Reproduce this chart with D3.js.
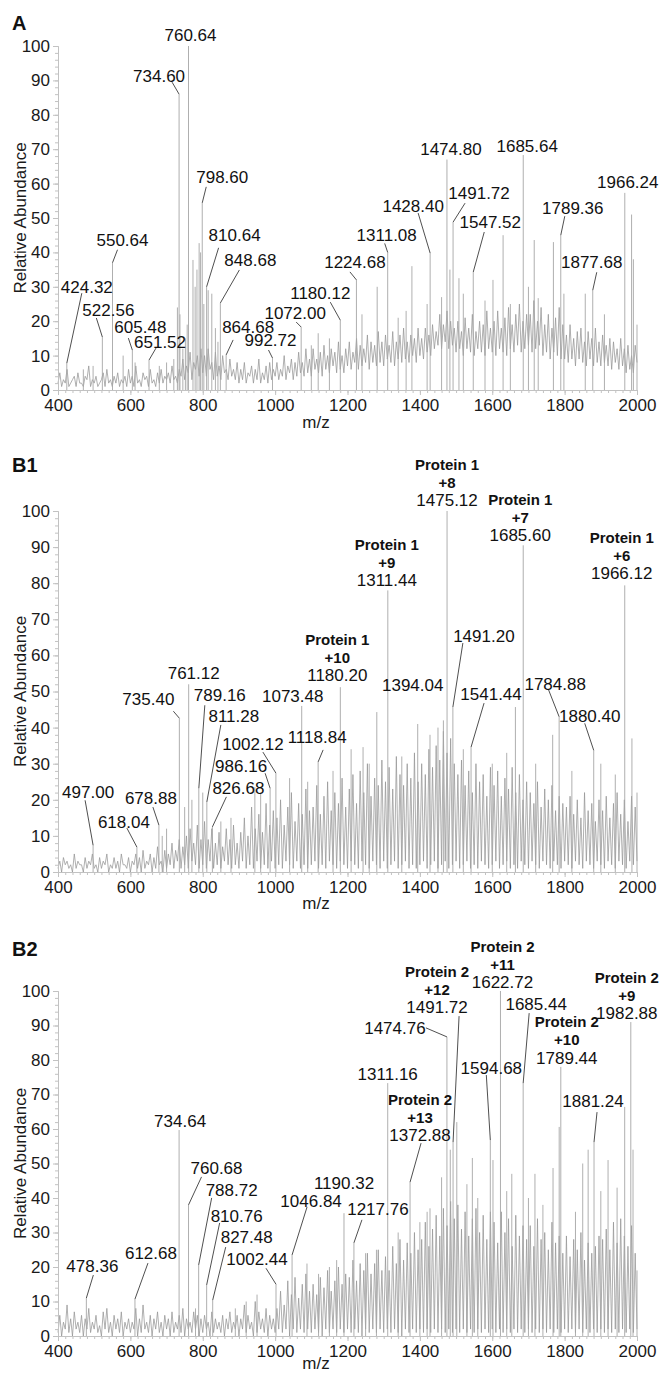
<!DOCTYPE html>
<html>
<head>
<meta charset="utf-8">
<script src="https://cdn.jsdelivr.net/npm/d3@7"></script>
<style>
  body { margin: 0; background: #fff; }
</style>
</head>
<body>
<div id="chart"></div>
<script>
// ---- data ----
const mzTicks = [400, 600, 800, 1000, 1200, 1400, 1600, 1800, 2000];
const abundanceTicks = [0, 10, 20, 30, 40, 50, 60, 70, 80, 90, 100];

// noisy profile trace, one value every 5 m/z from 400 to 2000
const noiseStart = 400, noiseStep = 5;
const noiseA = [
  2,5,1,3,2,6,1,2,3,4,1,5,2,2,1,4,3,7,1,3,
  2,4,1,2,3,5,1,6,2,3,1,4,2,5,1,3,2,4,1,6,
  2,4,1,7,2,3,1,5,3,4,1,6,2,3,1,5,2,6,2,4,
  3,5,2,7,3,4,2,6,4,9,3,7,5,11,3,8,6,10,4,12,
  5,10,4,12,6,8,3,11,4,7,3,10,5,6,3,9,4,6,3,8,
  2,6,3,8,2,5,4,7,2,6,3,9,2,5,3,7,2,8,3,6,
  4,8,3,6,4,10,3,7,5,9,3,8,4,11,5,8,4,12,5,9,
  4,12,6,9,5,11,4,13,6,10,5,12,7,11,5,14,6,10,5,12,
  7,14,6,11,8,15,6,13,7,12,8,16,6,14,8,13,7,17,8,14,
  7,16,9,13,8,17,7,14,9,16,8,18,9,14,8,16,10,15,8,18,
  10,15,9,18,11,16,10,19,12,17,13,22,12,19,14,23,12,20,13,18,
  11,20,12,17,10,21,12,18,11,22,10,17,12,20,11,19,10,23,12,18,
  11,20,10,23,12,18,11,21,10,24,12,19,11,22,13,25,11,20,12,22,
  13,22,11,26,12,20,13,24,10,19,11,22,9,18,11,21,10,24,9,19,
  9,16,8,19,9,15,7,17,9,18,8,14,7,17,9,15,7,18,8,14,
  7,16,8,13,7,15,6,14,8,12,6,15,7,12,5,13,6,10,5,13,
  8
];
const noiseB1 = [
  1,3,0,4,2,3,1,2,0,5,1,3,2,2,0,4,1,3,2,5,
  1,2,0,4,1,3,2,5,0,2,1,4,1,3,0,5,2,2,1,4,
  0,3,2,5,1,4,0,6,1,3,2,5,0,4,1,7,2,3,0,6,
  1,5,2,8,1,6,3,9,1,7,2,10,1,12,3,8,2,13,1,9,
  2,14,1,9,3,12,1,8,2,11,1,7,3,12,2,9,1,13,2,8,
  1,11,3,15,1,10,2,18,1,12,3,16,1,11,2,19,1,13,3,17,
  1,15,2,20,1,13,3,18,2,22,1,14,3,19,1,16,2,23,1,17,
  2,18,3,24,1,16,2,21,1,25,3,17,2,22,1,19,3,26,2,18,
  1,23,3,27,2,19,1,28,3,22,2,30,1,21,3,26,2,24,1,31,
  3,25,1,29,2,23,3,32,1,27,2,24,3,30,1,26,2,33,1,25,
  2,30,3,27,1,34,2,29,3,35,1,31,2,39,3,33,1,37,2,30,
  3,27,1,31,2,24,3,28,1,22,2,30,1,25,3,27,2,21,1,29,
  2,24,3,28,1,21,2,26,3,23,1,29,2,22,1,27,3,20,2,25,
  1,22,3,19,2,25,1,18,3,23,2,20,1,24,3,17,2,21,1,19,
  3,18,2,21,1,16,3,20,2,15,1,22,3,17,2,19,1,14,3,20,
  2,17,1,21,3,15,2,19,1,22,3,16,2,20,1,14,3,21,2,18,
  3
];
const noiseB2 = [
  1,6,0,4,2,9,1,5,0,7,2,4,1,6,0,5,2,8,1,4,
  2,6,1,3,0,7,2,8,1,4,0,6,2,5,1,7,0,4,2,5,
  1,4,2,8,0,5,1,9,2,4,1,6,0,5,2,7,1,4,0,6,
  2,5,0,7,1,4,2,6,1,8,0,5,2,4,1,7,2,6,0,5,
  1,6,2,4,0,7,1,5,2,4,1,6,0,5,2,7,1,4,2,6,
  0,5,2,9,1,6,2,4,0,10,1,7,2,5,1,8,0,6,2,5,
  1,8,2,13,1,9,2,16,0,12,2,17,1,11,2,15,1,18,2,13,
  1,15,2,12,1,17,0,14,2,19,1,13,2,16,1,20,2,15,1,18,
  2,17,1,22,2,16,1,21,0,19,2,24,1,18,2,21,1,25,2,19,
  1,23,2,19,1,26,2,21,1,28,0,22,2,27,1,24,2,30,1,25,
  2,28,1,33,2,26,1,31,2,35,1,29,2,37,1,32,2,39,1,34,
  2,38,1,31,2,36,1,29,2,34,1,37,2,30,1,35,2,28,1,36,
  2,33,1,27,2,36,1,30,2,34,1,26,2,35,1,29,2,32,1,28,
  2,32,1,26,2,34,1,28,2,30,1,25,2,33,1,27,2,29,1,24,
  2,29,1,23,2,28,1,25,2,30,1,22,2,27,1,24,2,26,1,29,
  2,28,1,31,2,25,1,33,2,27,1,34,2,29,1,26,2,32,1,24,
  2
];

// unlabelled peaks [m/z, abundance]
const extraPeaksA = [
  [470,6],[497,7],[580,10],[613,8],[680,7],[700,8],[720,9],[730,24],[737,22],[745,12],
  [752,15],[757,19],[773,37.8],[779,30],[784,35],[790,42.7],[794,40],[803,25],[815,29],
  [825,28],[835,18],[842,14],[1100,13],[1119,16.5],[1150,15],[1240,22],[1282,30],
  [1340,21],[1362,23],[1378,36],[1420,25],[1460,27],[1483,35],[1508,32.5],[1520,28],
  [1580,26],[1602,32],[1630,45],[1650,25],[1700,30],[1716,43.6],[1727,26.7],[1769,43],
  [1798,28],[1857,28],[1910,22],[1985,51],[1990,38],[2000,19]
];
const extraPeaksB1 = [
  [688,10],[700,12],[750,18],[770,20],[800,22],[850,14],[878,15],[944,23.5],[960,22],
  [1040,26],[1090,25],[1160,28],[1210,34],[1243,34.6],[1260,30],[1281,44.3],[1350,32],
  [1428,38],[1450,40],[1465,42],[1520,34],[1600,30],[1640,33],[1664,45.7],[1720,30],
  [1767,38],[1820,28],[1900,30],[1940,27],[1986,37],[2000,22]
];
const extraPeaksB2 = [
  [780,8],[890,8],[920,10],[950,12],[1088,21],[1120,18],[1150,20],[1170,22],[1250,24],
  [1280,25],[1340,30],[1400,33],[1420,36],[1428,37],[1460,46],[1484,54],[1502,62],
  [1530,44],[1545,51.6],[1560,40],[1602,51],[1640,42],[1654,47],[1700,40],[1718,47],
  [1740,38],[1768,48.7],[1785,60.6],[1830,36],[1850,50],[1865,54],[1900,42],[1920,51],
  [1945,43],[1966,66.4],[1989,54],[2000,19]
];

// labelled peaks
const labelMzA = [424.32,522.56,550.64,605.48,651.52,734.60,760.64,798.60,810.64,848.68,864.68,992.72,
  1072.00,1180.12,1224.68,1311.08,1428.40,1474.80,1491.72,1547.52,1685.64,1789.36,1877.68,1966.24];
const labelAbA = [7.8,15.4,37,11.6,8.7,86,100,54.4,30,25.3,10.2,9.3,
  18.3,20.3,32,40,39.8,67,48.8,34.3,68.3,45,29,57.3];

const labelMzB1 = [497.00,618.04,678.88,735.40,761.12,789.16,811.28,826.68,986.16,1002.12,1073.48,
  1118.84,1180.20,1311.44,1394.04,1475.12,1491.20,1541.44,1685.60,1784.88,1880.40,1966.12];
const labelAbB1 = [7.4,6.9,13,42.6,52,23.2,19.4,12.5,23.2,27.4,46,
  30.5,51.2,78,41,100,45.7,34.6,90.5,43,33.7,79.4];
const chargeB1 = [null,null,null,null,null,null,null,null,null,null,null,
  null,"+10","+9",null,"+8",null,null,"+7",null,null,"+6"];

const labelMzB2 = [478.36,612.68,734.64,760.68,788.72,810.76,827.48,1002.44,1046.84,1190.32,1217.76,
  1311.16,1372.88,1474.76,1491.72,1594.68,1622.72,1685.44,1789.44,1881.24,1982.88];
const labelAbB2 = [11,10.7,59.7,38,20.6,14.8,10.4,15,23.5,35.6,27,
  73.3,44.6,86.7,56.2,56.8,100,73.3,78,56.2,91];
const chargeB2 = [null,null,null,null,null,null,null,null,null,null,null,
  null,"+13",null,"+12",null,"+11",null,"+10",null,"+9"];

// ---- annotation layout: label centre offset and leader start, px from the peak top ----
const offsetsA = [
  [20,-76,15,-70],[6,-27,-6,-19],[10,-23,5,-13],[8,-23,-4,-12],[11,-18,7,-12],[-20,-18,-7,-12],
  [2,-11,null,null],[20,-26,4,-16],[28,-52,12,-39],[30,-43,19,-33],[22,-28,7,-15],[-2,-18,-4,-8],
  [-6,-14,-5,-5],[-20,-27,-10,-18],[-1.5,-18,-6.5,-8],[-1,-17,-3,-9],[-17,-47,-12,-40],[4,-11,null,null],
  [26,-29,12,-19],[17,-50,11,-40],[4,-9,null,null],[12,-27,4,-19],[-1,-28,4,-18],[3,-11,null,null]
];
const offsetsB1 = [
  [-5,-53,-8,-45],[-13,-25,-10,-19],[-8,-27,-6,-18],[-31,-19,-6,-7],[5,-11,null,null],[21,-93,6,-83],
  [27,-86,14,-77],[26,-39,14,-30],[-29,-22,-5,-15],[-23,-29,-13,-21],[-9,-10,null,null],[-1,-25,5,-12],
  [-3,-12,null,null],[-1,-10,null,null],[-5,-39,null,null],[0,-11,null,null],[31,-71,10,-64],[20,-53,13,-44],
  [-3,-10,null,null],[-4,-33,-11,-28],[-4,-34,-9,-27],[-3,-12,null,null]
];
const offsetsB2 = [
  [6,-32,7,-23],[16,-46,13,-36],[1,-9,null,null],[28,-37,13,-28],[33,-75,13,-67],[30,-69,13,-62],
  [34,-63,13,-53],[-19,-25,-10,-16],[19,-54,15,-48],[0,-30,null,null],[24,-34,8,-23],[0,-9,null,null],
  [10,-47,11,-39],[-52,-9,-21,-9],[-16,-135,6,-126],[1,-72,-4,-65],[2,-9,null,null],[13,-79,6,-70],
  [6,-9,null,null],[-1,-41,3,-30],[-4,-9,null,null]
];

const font = "'Liberation Sans', Arial, Helvetica, sans-serif";
const axisColor = "#c2c2c2";

const svg = d3.select("#chart").append("svg")
  .attr("width", 659)
  .attr("height", 1374);

const x = d3.scaleLinear().domain([400, 2000]).range([58, 637]);

const panels = [
  {letter: "A", letterY: 30, top: 46, bottom: 390, mzY: 428, noise: noiseA, extras: extraPeaksA,
   mz: labelMzA, ab: labelAbA, charge: null, protein: null, offsets: offsetsA},
  {letter: "B1", letterY: 472, top: 511, bottom: 872, mzY: 909, noise: noiseB1, extras: extraPeaksB1,
   mz: labelMzB1, ab: labelAbB1, charge: chargeB1, protein: "Protein 1", offsets: offsetsB1},
  {letter: "B2", letterY: 956, top: 991, bottom: 1336, mzY: 1369, noise: noiseB2, extras: extraPeaksB2,
   mz: labelMzB2, ab: labelAbB2, charge: chargeB2, protein: "Protein 2", offsets: offsetsB2}
];

function styleAxis(sel) {
  sel.attr("font-size", 17).attr("font-family", font).attr("color", "#1a1a1a");
  sel.selectAll(".domain, .tick line").attr("stroke", axisColor);
}

panels.forEach(function(p) {
  const y = d3.scaleLinear().domain([0, 100]).range([p.bottom, p.top]);
  const g = svg.append("g");

  // profile trace
  g.append("path")
    .datum(p.noise)
    .attr("d", d3.line()
      .x(function(d, i) { return x(noiseStart + i * noiseStep); })
      .y(function(d) { return y(d); }))
    .attr("fill", "none")
    .attr("stroke", "#959595")
    .attr("stroke-width", 0.75);

  // peak sticks
  const sticks = p.extras.concat(p.mz.map(function(m, i) { return [m, p.ab[i]]; }));
  g.append("g").selectAll("line")
    .data(sticks)
    .join("line")
      .attr("x1", d => x(d[0]))
      .attr("x2", d => x(d[0]))
      .attr("y1", y(0))
      .attr("y2", d => y(d[1]))
      .attr("stroke", "#a6a6a6")
      .attr("stroke-width", 0.9);

  // minor ticks
  g.append("g")
    .attr("transform", "translate(58,0)")
    .call(d3.axisLeft(y).tickValues(d3.range(0, 101, 2)).tickSize(3).tickFormat(""))
    .call(styleAxis);
  g.append("g")
    .attr("transform", `translate(0,${p.bottom})`)
    .call(d3.axisBottom(x).tickValues(d3.range(400, 2001, 20)).tickSize(3).tickFormat(""))
    .call(styleAxis);

  // major axes
  g.append("g")
    .attr("transform", "translate(58,0)")
    .call(d3.axisLeft(y).tickValues(abundanceTicks).tickSize(5).tickPadding(3).tickSizeOuter(0))
    .call(styleAxis);
  g.append("g")
    .attr("transform", `translate(0,${p.bottom})`)
    .call(d3.axisBottom(x).tickValues(mzTicks).tickFormat(d3.format("d"))
      .tickSize(5).tickPadding(4).tickSizeOuter(0))
    .call(styleAxis);

  // axis titles
  g.append("text")
    .attr("transform", `translate(20,${(p.top + p.bottom) / 2}) rotate(-90)`)
    .attr("text-anchor", "middle")
    .attr("dy", "0.35em")
    .style("font-family", font)
    .style("font-size", "17px")
    .attr("fill", "#1a1a1a")
    .text("Relative Abundance");

  g.append("text")
    .attr("x", 316)
    .attr("y", p.mzY)
    .attr("text-anchor", "middle")
    .style("font-family", font)
    .style("font-size", "17px")
    .attr("fill", "#1a1a1a")
    .text("m/z");

  // panel letter
  g.append("text")
    .attr("x", 12)
    .attr("y", p.letterY)
    .style("font-family", font)
    .style("font-size", "20px")
    .style("font-weight", "bold")
    .attr("fill", "#111")
    .text(p.letter);

  // peak labels + leaders
  p.mz.forEach(function(m, i) {
    const px = x(m), py = y(p.ab[i]);
    const o = p.offsets[i];
    const cx = px + o[0], cy = py + o[1];
    if (o[2] !== null) {
      g.append("line")
        .attr("x1", px + o[2]).attr("y1", py + o[3])
        .attr("x2", px).attr("y2", py)
        .attr("stroke", "#222")
        .attr("stroke-width", 0.8);
    }
    g.append("text")
      .attr("x", cx)
      .attr("y", cy + 6)
      .attr("text-anchor", "middle")
      .style("font-family", font)
      .style("font-size", "17px")
      .attr("fill", "#111")
      .text(m.toFixed(2));
    if (p.charge && p.charge[i]) {
      g.append("text")
        .attr("x", cx).attr("y", cy - 18 + 5.5)
        .attr("text-anchor", "middle")
        .style("font-family", font).style("font-size", "15px").style("font-weight", "bold")
        .attr("fill", "#111")
        .text(p.charge[i]);
      g.append("text")
        .attr("x", cx).attr("y", cy - 36 + 5.5)
        .attr("text-anchor", "middle")
        .style("font-family", font).style("font-size", "15px").style("font-weight", "bold")
        .attr("fill", "#111")
        .text(p.protein);
    }
  });
});
</script>
</body>
</html>
